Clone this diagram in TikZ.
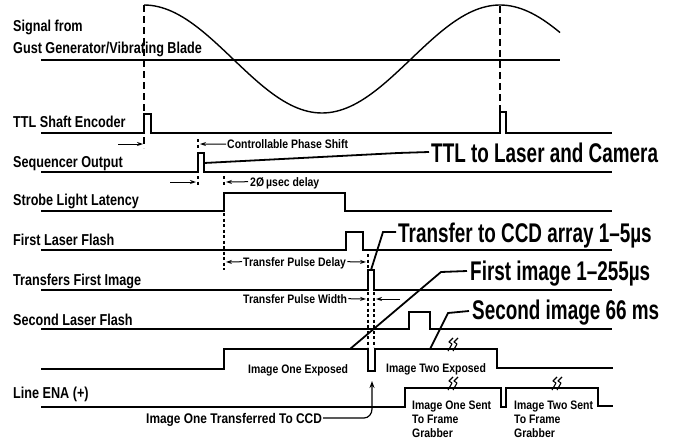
\documentclass[tikz,border=0pt]{standalone}
\usepackage{fontspec}
\newfontfamily\rowf{Liberation Sans}[FakeStretch=0.8]
\newfontfamily\bigf{Liberation Sans}[FakeStretch=0.7]
\newfontfamily\smf{Liberation Sans}[FakeStretch=0.85]
\usetikzlibrary{arrows.meta,calc}
\begin{document}
\begin{tikzpicture}[x=1pt,y=-1pt,
  sig/.style={line width=1.8pt, line join=miter},
  wave/.style={line width=1.4pt},
  dashln/.style={line width=1.4pt, dash pattern=on 7pt off 4pt},
  dotln/.style={line width=1.3pt, dash pattern=on 3pt off 2.5pt},
  leader/.style={line width=1.8pt},
  arr/.style={line width=1pt, -{Stealth[length=6pt,width=4pt]}},
  rowlab/.style={anchor=base west, inner sep=0pt, font=\rowf\bfseries\fontsize{15.8}{18}\selectfont},
  biglab/.style={anchor=base west, inner sep=0pt, font=\bigf\bfseries\fontsize{27}{30}\selectfont},
  smlab/.style={anchor=base west, inner sep=0pt, font=\smf\bfseries\fontsize{12.3}{14}\selectfont},
  brk/.pic={\draw[line width=1.1pt, line join=round] (5,-11) -- (1,-7) -- (4,-5) -- (0,2);
            \draw[line width=1.1pt, line join=round] (10,-11) -- (6,-7) -- (9,-5) -- (5,2);}
]
\useasboundingbox (0,0) rectangle (676,444);
\fill[white] (0,0) rectangle (676,444);

% ---------- row labels ----------
\node[rowlab] (l1) at (13,31.5) {Signal from};
\node[rowlab] (l2) at (13,53.5) {Gust Generator/Vibrating Blade};
\node[rowlab] (l3) at (13,127) {TTL Shaft Encoder};
\node[rowlab] (l4) at (13,167) {Sequencer Output};
\node[rowlab] (l5) at (13,205) {Strobe Light Latency};
\node[rowlab] (l6) at (13,245) {First Laser Flash};
\node[rowlab] (l7) at (13,285) {Transfers First Image};
\node[rowlab] (l8) at (13,325) {Second Laser Flash};
\node[rowlab] (l9) at (13,398.5) {Line ENA (+)};

% ---------- signals ----------
% gust signal
\draw[sig] (41,60) -- (560,60);
\draw[wave] plot[domain=0:416, samples=120] ({144+\x},{59-54*cos(1.011236*\x)});
\draw[dashln] (144,5) -- (144,148);
\draw[dashln] (500,6) -- (500,112);
% TTL shaft encoder
\draw[sig] (41,133) -- (144,133) -- (144,114) -- (151,114) -- (151,133) -- (500,133) -- (500,112) -- (506,112) -- (506,133) -- (612,133);
% sequencer
\draw[sig] (41,172) -- (198,172) -- (198,153) -- (204,153) -- (204,172) -- (612,172);
% strobe
\draw[sig] (41,211) -- (224,211) -- (224,193) -- (345,193) -- (345,211) -- (612,211);
% first laser flash
\draw[sig] (41,250) -- (346,250) -- (346,232) -- (363,232) -- (363,250) -- (612,250);
% transfers first image
\draw[sig] (41,290) -- (368,290) -- (368,270) -- (374,270) -- (374,290) -- (612,290);
% second laser flash
\draw[sig] (41,329) -- (409,329) -- (409,312) -- (430,312) -- (430,329) -- (612,329);
% exposure
\draw[sig] (41,369) -- (224,369) -- (224,349) -- (368,349) -- (368,371) -- (375,371) -- (375,349) -- (497,349) -- (497,368) -- (613,368);
% line ENA
\draw[sig] (41,407) -- (405,407) -- (405,388) -- (501,388) -- (501,407) -- (506,407) -- (506,388) -- (598,388) -- (598,406) -- (613,406);
% break marks
\pic at (448,349) {brk};
\pic at (448,388) {brk};
\pic at (552,388) {brk};

% ---------- ticks ----------
\draw[dotln] (198,139) -- (198,148);
\draw[dotln] (198,176) -- (198,187);
\draw[dotln] (224,176) -- (224,187);
\draw[dotln] (224,213) -- (224,270);
\draw[dotln] (368,254) -- (368,268);
\draw[dotln] (368,292) -- (368,347);
\draw[dotln] (374,292) -- (374,347);

% ---------- small labels and arrows ----------
\coordinate (e1) at (143,144);
\coordinate (e2) at (200,144);
\coordinate (e3) at (196,182);
\coordinate (e4) at (226,182);
\coordinate (e5) at (226,262);
\coordinate (e6) at (366,262);
\coordinate (e7) at (366,299);
\coordinate (e8) at (376,299);
\coordinate (s1) at (118,144);
\coordinate (s3) at (170,182);
\coordinate (s8) at (400,299);

\node[smlab] (cps) at (227,148.5) {Controllable Phase Shift};
\node[smlab] (dly) at (250,186) {2Ø\,µsec delay};
\node[smlab] (tpd) at (243,266) {Transfer Pulse Delay};
\node[smlab] (tpw) at (243,303) {Transfer Pulse Width};
\node[smlab] (i1e) at (248,373) {Image One Exposed};
\node[smlab] (i2e) at (386,372) {Image Two Exposed};
\node[smlab, font=\smf\bfseries\fontsize{14}{16}\selectfont] (i1t) at (146,423) {Image One Transferred To CCD};
\node[anchor=north west, inner sep=0pt, align=left, font=\smf\bfseries\fontsize{12.3}{14}\selectfont] (i1s) at (412,401) {Image One Sent\\To Frame\\Grabber};
\node[anchor=north west, inner sep=0pt, align=left, font=\smf\bfseries\fontsize{12.3}{14}\selectfont] (i2s) at (514,401) {Image Two Sent\\To Frame\\Grabber};

\draw[arr] (s1) -- (e1);
\draw[arr] ($(cps.base west)+(-1,-4.3)$) -- (e2);
\draw[arr] (s3) -- (e3);
\draw[arr] ($(dly.base west)+(-2,-4.3)$) -- (e4);
\draw[arr] ($(tpd.base west)+(-1,-4.3)$) -- (e5);
\draw[arr] ($(tpd.base east)+(1,-4.3)$) -- (e6);
\draw[arr] ($(tpw.base east)+(1,-4.3)$) -- (e7);
\draw[arr] (s8) -- (e8);
\coordinate (cc) at (372,381);
\draw[line width=1.2pt, -{Stealth[length=7pt,width=5pt]}] ($(i1t.base east)+(1,-5)$) -- (364,418) to[out=0,in=-90] (372,409) -- (cc);

% ---------- big labels and leaders ----------
\node[biglab] (big1) at (431,162) {TTL to Laser and Camera};
\node[biglab] (big2) at (398,242) {Transfer to CCD array 1–5µs};
\node[biglab] (big3) at (470,280) {First image 1–255µs};
\node[biglab] (big4) at (472,319.5) {Second image 66 ms};

\coordinate (p1) at (204,163);
\coordinate (p2) at (371,270);
\coordinate (p3) at (350,349);
\coordinate (p4) at (430,349);
\draw[leader] (p1) -- (398,153) -- ($(big1.base west)+(-2,-10)$);
\draw[leader] (p2) -- (383,232) -- ($(big2.base west)+(-2,-10)$);
\draw[leader] (p3) -- (441,272) -- ($(big3.base west)+(-3,-9)$);
\draw[leader] (p4) -- (448,313) -- ($(big4.base west)+(-3,-8.5)$);
\end{tikzpicture}
\end{document}
